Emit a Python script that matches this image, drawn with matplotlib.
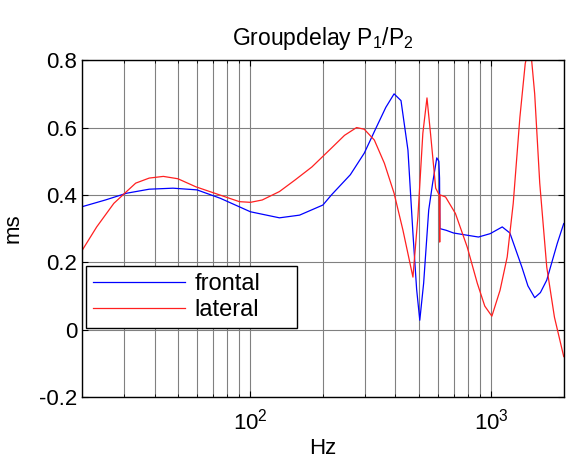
import matplotlib
matplotlib.use("Agg")
import matplotlib.pyplot as plt
from matplotlib.ticker import FixedLocator, FixedFormatter, LogLocator, NullFormatter

plt.rcParams['font.family'] = ['Liberation Sans', 'DejaVu Sans']
plt.rcParams['mathtext.default'] = 'regular'

# frontal series (Hz, ms)
f_frontal = [20, 25, 30.6, 38, 47.7, 60, 75, 100, 132, 160, 200, 217, 260, 297, 333,
             365, 395, 422, 451, 473, 490, 505, 524, 550, 571, 594, 606, 610, 612,
             650, 697, 800, 885, 990, 1111, 1195, 1340, 1420, 1515, 1600, 1700, 1880, 2000]
gd_frontal = [0.365, 0.385, 0.405, 0.417, 0.42, 0.415, 0.39, 0.35, 0.332, 0.34, 0.37, 0.40, 0.46,
              0.524, 0.60, 0.66, 0.70, 0.68, 0.533, 0.286, 0.12, 0.028, 0.138, 0.355, 0.435,
              0.51, 0.50, 0.45, 0.30, 0.295, 0.287, 0.28, 0.275, 0.285, 0.305, 0.287, 0.186,
              0.13, 0.095, 0.11, 0.147, 0.256, 0.315]

# lateral series (Hz, ms)
f_lateral = [20, 23, 27.1, 30.6, 33.4, 38, 43.5, 50, 59.4, 74.5, 90, 100, 112, 132, 153, 180,
             217, 246, 276, 297, 327, 360, 395, 430, 473, 496, 520, 541, 560, 588, 608, 611,
             613, 646, 710, 795, 875, 940, 1006, 1088, 1165, 1234, 1315, 1384, 1450, 1515,
             1590, 1700, 1830, 2000]
gd_lateral = [0.235, 0.305, 0.375, 0.41, 0.435, 0.45, 0.455, 0.448, 0.424, 0.40, 0.38, 0.378,
              0.385, 0.41, 0.444, 0.483, 0.539, 0.577, 0.60, 0.595, 0.563, 0.494, 0.405, 0.295,
              0.156, 0.335, 0.583, 0.688, 0.58, 0.42, 0.40, 0.26, 0.40, 0.394, 0.345, 0.245,
              0.138, 0.07, 0.04, 0.117, 0.216, 0.375, 0.63, 0.79, 0.85, 0.70, 0.435, 0.186,
              0.037, -0.08]

y_ticks = [-0.2, 0, 0.2, 0.4, 0.6, 0.8]
y_labels = ['-0.2', '0', '0.2', '0.4', '0.6', '0.8']

fig = plt.figure(figsize=(5.66, 4.63), dpi=100)
ax = fig.add_axes([0.145, 0.1425, 0.851, 0.7275])

ax.semilogx(f_frontal, gd_frontal, color='#0000ff', lw=0.9, label='frontal')
ax.semilogx(f_lateral, gd_lateral, color='#ff2020', lw=0.9, label='lateral')

ax.set_xlim(20, 2000)
ax.set_ylim(-0.2, 0.8)
ax.yaxis.set_major_locator(FixedLocator(y_ticks))
ax.yaxis.set_major_formatter(FixedFormatter(y_labels))
ax.xaxis.set_major_locator(LogLocator(base=10))
ax.xaxis.set_minor_locator(LogLocator(base=10, subs=range(2, 10)))
ax.xaxis.set_minor_formatter(NullFormatter())

ax.grid(True, which='both', axis='x', color='0.5', lw=0.8)
ax.grid(True, which='major', axis='y', color='0.5', lw=0.8)

ax.tick_params(which='both', direction='in', top=True, right=True, labelsize=16)
ax.tick_params(which='major', length=4)
ax.tick_params(which='minor', length=2.5)
ax.tick_params(axis='x', which='major', pad=8)
for s in ax.spines.values():
    s.set_linewidth(1.0)

ax.set_xlabel('Hz', fontsize=16, labelpad=3)
ax.set_ylabel('ms', fontsize=16, labelpad=11)
ax.set_title('Groupdelay P$_1$/P$_2$', fontsize=16.5, pad=11)

leg = ax.legend(loc='lower left', bbox_to_anchor=(0.008, 0.205, 0.438, 0.196), mode='expand',
                borderaxespad=0, fontsize=17, handlelength=3.9, fancybox=False,
                edgecolor='black', framealpha=1, labelspacing=0.15, borderpad=0.3,
                handletextpad=0.4)
leg.get_frame().set_linewidth(1.0)

fig.savefig('out.png', dpi=100)
